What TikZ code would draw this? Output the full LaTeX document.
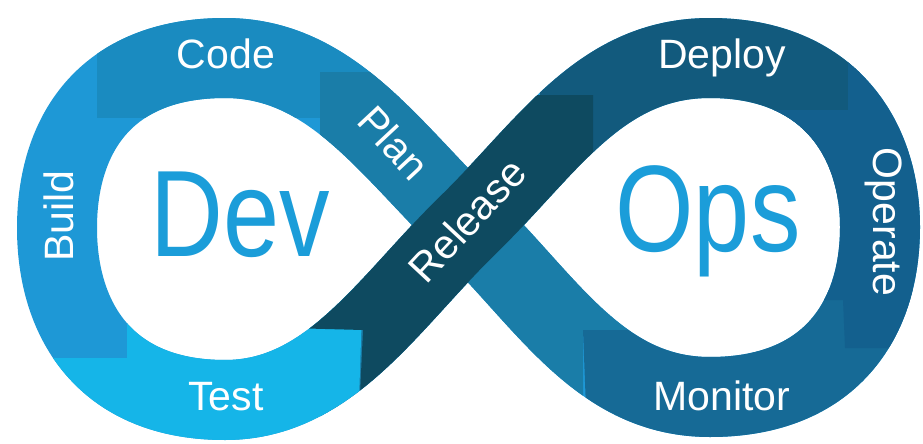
\documentclass[tikz,border=0pt]{standalone}
\usepackage{fontspec}
\setmainfont{Liberation Sans}
\definecolor{buildc}{HTML}{1E98D6}
\definecolor{codec}{HTML}{1A8BC0}
\definecolor{testc}{HTML}{15B5E8}
\definecolor{planc}{HTML}{1A7DA8}
\definecolor{releasec}{HTML}{0E4A60}
\definecolor{deployc}{HTML}{125A7D}
\definecolor{operatec}{HTML}{13608E}
\definecolor{monitorc}{HTML}{166A96}
\definecolor{devblue}{HTML}{1B9DD9}
% centre line of the whole loop, and of the release strip alone
\newcommand\infpath{(468,225) .. controls (548,147) and (600,58) .. (710,58)
  .. controls (830,58) and (880,140) .. (880,227)
  .. controls (880,320) and (830,397) .. (710,397)
  .. controls (600,397) and (548,303) .. (468,225)
  .. controls (388,147) and (330,58) .. (225,58)
  .. controls (105,58) and (57,135) .. (57,228)
  .. controls (57,320) and (105,400) .. (225,400)
  .. controls (330,400) and (388,303) .. (468,225) -- cycle}
\newcommand\relpath{(225,400) .. controls (330,400) and (388,303) .. (468,225)
  .. controls (548,147) and (600,58) .. (710,58)}

\begin{document}
\begin{tikzpicture}[x=1pt,y=-1pt,
   band/.style={draw=#1,line width=80pt,line join=round},
   lbl/.style={text=white,inner sep=0pt,font=\fontsize{41}{41}\selectfont},
   big/.style={text=devblue,inner sep=0pt,font=\fontsize{123}{123}\selectfont,xscale=.82}]
 \useasboundingbox (0,0) rectangle (923,444);
 % pieces of the band, back to front
 \draw[band=buildc] \infpath;
 \begin{scope}
   \clip (97,-10) rectangle (400,117);
   \draw[band=codec] \infpath;
 \end{scope}
 \begin{scope}
   \clip (320,72) -- (470,72) -- (700,330) -- (583,330) -- (583,460) -- (320,460) -- cycle;
   \draw[band=planc] \infpath;
 \end{scope}
 \begin{scope}
   \clip (127,280) -- (363,280) -- (357,460) -- (-10,460) -- (-10,358) -- (127,358) -- cycle;
   \draw[band=testc] \infpath;
 \end{scope}
 \begin{scope}
   \clip (540,-10) -- (860,-10) -- (860,200) -- (593,200) -- (593,95) -- (540,95) -- cycle;
   \draw[band=deployc] \infpath;
 \end{scope}
 \begin{scope}
   \clip (583,330) -- (700,330) -- (700,290) -- (960,290) -- (960,460) -- (588,460) -- cycle;
   \draw[band=monitorc] \infpath;
 \end{scope}
 \begin{scope}
   \clip (848,-10) -- (960,-10) -- (960,348) -- (845,348) -- (843,300)
     -- (760,300) -- (760,110) -- (848,110) -- cycle;
   \draw[band=operatec] \infpath;
 \end{scope}
 \begin{scope}
   \clip (250,327) -- (363,330) -- (357,460) -- (700,460) -- (700,200)
     -- (593,200) -- (593,95) -- (450,95) -- (250,250) -- cycle;
   \draw[band=releasec,line cap=butt] \relpath;
 \end{scope}

 % labels
 \node[lbl,anchor=base] (code) at (226,68) {Code};
 \node[lbl,anchor=base,rotate=90] (build) at (73,216) {Build};
 \node[lbl,anchor=base] (test) at (226,410) {Test};
 \node[lbl,rotate=-47] (plan) at (394,143) {Plan};
 \node[lbl,rotate=47] (release) at (467,220) {Release};
 \node[lbl,anchor=base] (deploy) at (722,68) {Deploy};
 \node[lbl,anchor=base,rotate=-90] (operate) at (873,222) {Operate};
 \node[lbl,anchor=base] (monitor) at (722,410) {Monitor};
 \node[big,anchor=base] (dev) at (240,256) {Dev};
 \node[big,anchor=base] (ops) at (708,251) {Ops};
\end{tikzpicture}
\end{document}
